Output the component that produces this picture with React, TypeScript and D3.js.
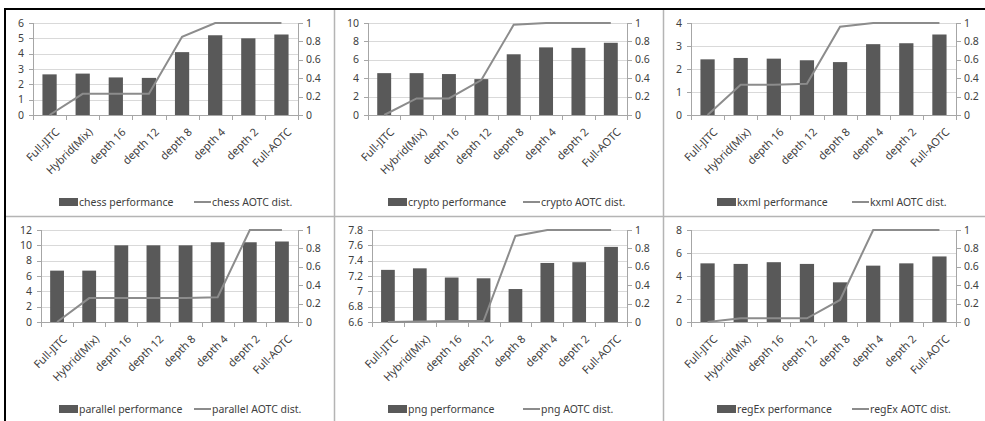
import React from "react";
import * as d3 from "d3";

const categories = [
  "Full-JITC",
  "Hybrid(Mix)",
  "depth 16",
  "depth 12",
  "depth 8",
  "depth 4",
  "depth 2",
  "Full-AOTC",
];

// Benchmark performance (left axis) per compilation mode
const chessPerf = [2.65, 2.7, 2.45, 2.42, 4.1, 5.2, 5.0, 5.25];
const cryptoPerf = [4.55, 4.55, 4.45, 3.9, 6.6, 7.35, 7.3, 7.85];
const kxmlPerf = [2.42, 2.48, 2.45, 2.38, 2.3, 3.08, 3.12, 3.5];
const parallelPerf = [6.7, 6.7, 10.0, 10.0, 10.0, 10.4, 10.4, 10.5];
const pngPerf = [7.28, 7.3, 7.18, 7.17, 7.03, 7.37, 7.38, 7.58];
const regExPerf = [5.1, 5.05, 5.2, 5.05, 3.45, 4.9, 5.1, 5.7];

// AOTC distribution (right axis, 0..1)
const chessDist = [0, 0.23, 0.23, 0.23, 0.85, 1, 1, 1];
const cryptoDist = [0, 0.18, 0.18, 0.38, 0.98, 1, 1, 1];
const kxmlDist = [0, 0.33, 0.33, 0.34, 0.96, 1, 1, 1];
const parallelDist = [0, 0.26, 0.26, 0.26, 0.26, 0.27, 1, 1];
const pngDist = [0, 0.005, 0.01, 0.01, 0.935, 1, 1, 1];
const regExDist = [0, 0.04, 0.04, 0.04, 0.24, 1, 1, 1];

// Left-axis ticks per benchmark
const chessTicks = [0, 1, 2, 3, 4, 5, 6];
const cryptoTicks = [0, 2, 4, 6, 8, 10];
const kxmlTicks = [0, 1, 2, 3, 4];
const parallelTicks = [0, 2, 4, 6, 8, 10, 12];
const pngTicks = [6.6, 6.8, 7, 7.2, 7.4, 7.6, 7.8];
const regExTicks = [0, 2, 4, 6, 8];

// Right-axis ticks shared by all panels
const distTicks = [0, 0.2, 0.4, 0.6, 0.8, 1];

const benchmarks = ["chess", "crypto", "kxml", "parallel", "png", "regEx"];
const perfSeries = [chessPerf, cryptoPerf, kxmlPerf, parallelPerf, pngPerf, regExPerf];
const distSeries = [chessDist, cryptoDist, kxmlDist, parallelDist, pngDist, regExDist];
const tickSeries = [chessTicks, cryptoTicks, kxmlTicks, parallelTicks, pngTicks, regExTicks];

const W = 985;
const H = 421;
const FONT = "'Noto Sans', 'DejaVu Sans', sans-serif";
const colX = [5, 334, 663];
const rowY = [9, 216];
const leftPad = [28, 34, 28, 36, 38, 28];

const fmt = (v: number) => String(+v.toFixed(2));

function Panel({ idx }: { idx: number }) {
  const x0 = colX[idx % 3];
  const y0 = rowY[Math.floor(idx / 3)];
  const ticks = tickSeries[idx];
  const perf = perfSeries[idx];
  const dist = distSeries[idx];
  const name = benchmarks[idx];

  const left = x0 + leftPad[idx];
  const right = x0 + 293;
  const top = y0 + 14;
  const bottom = y0 + 106;

  const x = d3.scaleBand<string>().domain(categories).range([left, right]).padding(0);
  const yL = d3
    .scaleLinear()
    .domain([ticks[0], ticks[ticks.length - 1]])
    .range([bottom, top]);
  const yR = d3.scaleLinear().domain([0, 1]).range([bottom, top]);
  const bw = x.bandwidth() * 0.43;

  const line = d3
    .line<number>()
    .x((_, i) => (x(categories[i]) as number) + x.bandwidth() / 2)
    .y((d) => yR(d));

  const legendY = y0 + 193;
  const perfLabel = `${name} performance`;
  const distLabel = `${name} AOTC dist.`;
  const cx = x0 + 167;

  return (
    <g fontFamily={FONT} fontSize={10.5} fill="#404040">
      {/* gridlines */}
      {ticks.map((t) => (
        <line
          key={"g" + t}
          x1={left}
          x2={right}
          y1={Math.round(yL(t)) + 0.5}
          y2={Math.round(yL(t)) + 0.5}
          stroke="#d9d9d9"
        />
      ))}
      {/* left axis */}
      <line x1={left + 0.5} x2={left + 0.5} y1={top} y2={bottom} stroke="#a6a6a6" />
      {ticks.map((t) => (
        <g key={"l" + t}>
          <line
            x1={left - 4}
            x2={left}
            y1={Math.round(yL(t)) + 0.5}
            y2={Math.round(yL(t)) + 0.5}
            stroke="#a6a6a6"
          />
          <text x={left - 9} y={yL(t)} dy="0.35em" textAnchor="end">
            {fmt(t)}
          </text>
        </g>
      ))}
      {/* right axis */}
      <line x1={right + 0.5} x2={right + 0.5} y1={top} y2={bottom} stroke="#a6a6a6" />
      {distTicks.map((t) => (
        <g key={"r" + t}>
          <line
            x1={right}
            x2={right + 5}
            y1={Math.round(yR(t)) + 0.5}
            y2={Math.round(yR(t)) + 0.5}
            stroke="#a6a6a6"
          />
          <text x={right + 8} y={yR(t)} dy="0.35em" textAnchor="start">
            {fmt(t)}
          </text>
        </g>
      ))}
      {/* category axis */}
      <line x1={left} x2={right} y1={bottom + 0.5} y2={bottom + 0.5} stroke="#a6a6a6" />
      {categories.concat([""]).map((c, i) => {
        const tx = Math.round(left + i * x.bandwidth()) + 0.5;
        return <line key={"t" + i} x1={tx} x2={tx} y1={bottom} y2={bottom + 5} stroke="#a6a6a6" />;
      })}
      {/* bars */}
      {perf.map((v, i) => {
        const c = categories[i];
        const bx = (x(c) as number) + (x.bandwidth() - bw) / 2;
        return (
          <rect key={"b" + i} x={bx} y={yL(v)} width={bw} height={bottom - yL(v)} fill="#595959" />
        );
      })}
      {/* distribution line */}
      <path d={line(dist) as string} fill="none" stroke="#8c8c8c" strokeWidth={2} />
      {/* rotated category labels */}
      {categories.map((c) => {
        const px = (x(c) as number) + x.bandwidth() / 2 + 8;
        const py = bottom + 15;
        return (
          <text
            key={"c" + c}
            transform={`translate(${px},${py}) rotate(-45)`}
            textAnchor="end"
            dy="0.35em"
            fontSize={11}
          >
            {c}
          </text>
        );
      })}
      {/* legend */}
      <rect x={cx - 113} y={legendY - 4} width={19} height={8} fill="#595959" />
      <text x={cx - 93} y={legendY} dy="0.35em">
        {perfLabel}
      </text>
      <line x1={cx + 22} x2={cx + 39} y1={legendY} y2={legendY} stroke="#8c8c8c" strokeWidth={2} />
      <text x={cx + 40} y={legendY} dy="0.35em">
        {distLabel}
      </text>
    </g>
  );
}

export default function App() {
  return (
    <svg
      width={W}
      height={H}
      style={{ position: "absolute", left: 0, top: 0, background: "#fff" }}
    >
      <rect width={W} height={H} fill="#fff" />
      {[0, 1, 2, 3, 4, 5].map((i) => (
        <Panel key={i} idx={i} />
      ))}
      {/* panel dividers */}
      <line x1={334.5} x2={334.5} y1={9} y2={H} stroke="#b4b4b4" strokeWidth={1.5} />
      <line x1={663.5} x2={663.5} y1={9} y2={H} stroke="#b4b4b4" strokeWidth={1.5} />
      <line x1={5} x2={W} y1={216.5} y2={216.5} stroke="#b4b4b4" strokeWidth={1.5} />
      {/* outer frame */}
      <line x1={5} x2={W} y1={9} y2={9} stroke="#000" strokeWidth={2} />
      <line x1={5} x2={5} y1={8} y2={H} stroke="#000" strokeWidth={2} />
    </svg>
  );
}
